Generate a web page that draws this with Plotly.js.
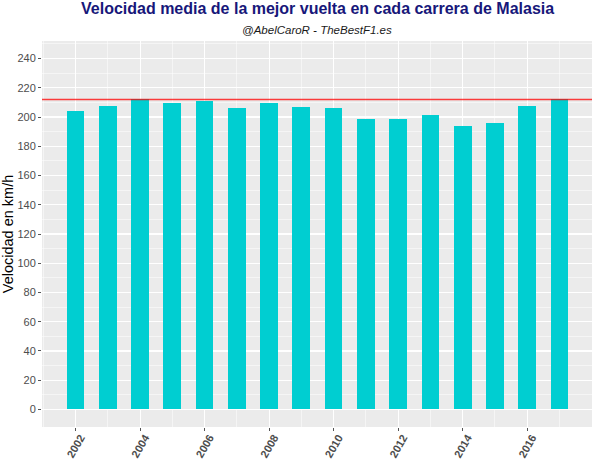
<!DOCTYPE html>
<html>
<head>
<meta charset="utf-8">
<script src="https://cdn.plot.ly/plotly-3.0.1.min.js"></script>
<style>html,body{margin:0;padding:0;background:#fff;}#chart{width:599px;height:466px;}</style>
</head>
<body>
<div id="chart"></div>
<script>
const years = [2002,2003,2004,2005,2006,2007,2008,2009,2010,2011,2012,2013,2014,2015,2016,2017];
const speeds = [204.1,207.3,212.0,209.4,210.8,206.4,209.9,207.1,206.0,198.9,198.4,201.6,194.1,195.9,207.3,212.0];
const refLine = 212.0;
const xTicks = [2002,2004,2006,2008,2010,2012,2014,2016];
const yTicks = [0,20,40,60,80,100,120,140,160,180,200,220,240];
const titleText = 'Velocidad media de la mejor vuelta en cada carrera de Malasia';
const subtitleText = '@AbelCaroR - TheBestF1.es';

const FONT = 'Liberation Sans, Arial, sans-serif';

const bars = {
  type: 'bar',
  x: years,
  y: speeds,
  width: 0.55,
  marker: {color: '#00CED1'},
  hoverinfo: 'x+y'
};

const layout = {
  width: 599, height: 466,
  margin: {l: 42, r: 7, t: 41, b: 39},
  paper_bgcolor: '#ffffff',
  plot_bgcolor: '#EBEBEB',
  font: {family: FONT, color: '#4D4D4D', size: 11},
  showlegend: false,
  bargap: 0,
  xaxis: {
    range: [2000.96, 2018.01],
    tickmode: 'array', tickvals: xTicks, ticktext: xTicks.map(String),
    tickangle: -60,
    tickfont: {family: FONT, size: 11, color: '#4D4D4D', weight: 'bold'},
    ticks: 'outside', ticklen: 3, tickcolor: '#555555', tickwidth: 1,
    ticklabelshift: 5, ticklabelstandoff: -4,
    showgrid: true, gridcolor: '#ffffff', gridwidth: 1.1,
    minor: {tickmode: 'array', tickvals: [2001,2003,2005,2007,2009,2011,2013,2015,2017], showgrid: true, gridcolor: '#ffffff', gridwidth: 0.5, ticks: ''},
    zeroline: false, showline: false, automargin: false, fixedrange: true
  },
  yaxis: {
    range: [-12, 252],
    tickmode: 'array', tickvals: yTicks, ticktext: yTicks.map(String),
    tickfont: {family: FONT, size: 11, color: '#4D4D4D'},
    ticks: 'outside', ticklen: 3, tickcolor: '#555555', tickwidth: 1,
    showgrid: true, gridcolor: '#ffffff', gridwidth: 1.1,
    minor: {tickmode: 'array', tickvals: [10,30,50,70,90,110,130,150,170,190,210,230,250], showgrid: true, gridcolor: '#ffffff', gridwidth: 0.5, ticks: ''},
    zeroline: false, showline: false, automargin: false, fixedrange: true,
    title: {text: 'Velocidad en km/h', font: {family: FONT, size: 14.5, color: '#000000'}, standoff: 0}
  },
  annotations: [
    {text: '<b>' + titleText + '</b>', xref: 'paper', yref: 'paper', x: 0.5, y: 1, yshift: 22,
     xanchor: 'center', yanchor: 'bottom', showarrow: false,
     font: {family: FONT, size: 16, color: '#17177A'}},
    {text: '<i>' + subtitleText + '</i>', xref: 'paper', yref: 'paper', x: 0.5, y: 1, yshift: 3,
     xanchor: 'center', yanchor: 'bottom', showarrow: false,
     font: {family: FONT, size: 11.5, color: '#1a1a1a'}}
  ],
  shapes: [{
    type: 'line', xref: 'paper', yref: 'y', x0: 0, x1: 1, y0: refLine, y1: refLine,
    line: {color: 'red', width: 1.3}, opacity: 0.75, layer: 'above'
  }]
};

Plotly.newPlot('chart', [bars], layout, {displayModeBar: false, staticPlot: true});
</script>
</body>
</html>
